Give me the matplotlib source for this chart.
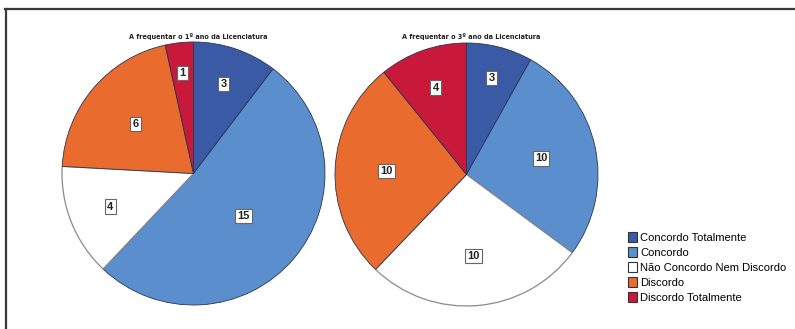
import matplotlib
matplotlib.use("Agg")
import matplotlib.pyplot as plt
from matplotlib.patches import Patch
from matplotlib.lines import Line2D
import numpy as np

categories = ["Concordo Totalmente", "Concordo", "Não Concordo Nem Discordo",
              "Discordo", "Discordo Totalmente"]
values_1ano = [3, 15, 4, 6, 1]
values_3ano = [3, 10, 10, 10, 4]
titles = ["A frequentar o 1º ano da Licenciatura", "A frequentar o 3º ano da Licenciatura"]
colors = ["#3a5aa5", "#5a8ecd", "#ffffff", "#ea6b2e", "#c8193a"]

W, H = 795, 329
fig = plt.figure(figsize=(W / 100, H / 100), dpi=100)
fig.patch.set_facecolor("white")

# frame (top & left edge)
fig.add_artist(Line2D([5 / W, 1], [1 - 9 / H, 1 - 9 / H], color="#3a3a3a", lw=1.6,
                      transform=fig.transFigure))
fig.add_artist(Line2D([5.5 / W, 5.5 / W], [0, 1 - 9 / H], color="#3a3a3a", lw=1.6,
                      transform=fig.transFigure))

r_px = 131.5
centers = [(193.5, 173.5), (466.5, 174.5)]
label_dist = [[0.72, 0.5, 0.68, 0.58, 0.77], [0.76, 0.58, 0.62, 0.61, 0.7]]

for (cx, cy), vals, title, ld in zip(centers, [values_1ano, values_3ano], titles, label_dist):
    ax = fig.add_axes([(cx - r_px) / W, (H - cy - r_px) / H, 2 * r_px / W, 2 * r_px / H])
    wedges, _ = ax.pie(vals, colors=colors, startangle=90, counterclock=False,
                       radius=1.0,
                       wedgeprops=dict(edgecolor="#2a3550", linewidth=0.6))
    wedges[2].set_edgecolor("#8a8a8a")
    wedges[2].set_linewidth(0.9)
    for w, v, d in zip(wedges, vals, ld):
        ang = np.deg2rad((w.theta1 + w.theta2) / 2)
        ax.text(d * np.cos(ang), d * np.sin(ang), str(v), ha="center", va="center",
                fontsize=8, fontweight="bold", color="#222222", family="Liberation Sans",
                bbox=dict(boxstyle="square,pad=0.2", fc="white", ec="#666666", lw=0.8))
    ax.set_xlim(-1, 1)
    ax.set_ylim(-1, 1)
    ax.set_aspect("equal")
    ax.axis("off")
    fig.text((cx + 5) / W, 1 - 36 / H, title, ha="center", va="center", fontsize=5.2,
             fontweight="bold", fontstretch="condensed", family="DejaVu Sans",
             color="#222222")

handles = [Patch(facecolor=c, edgecolor="#333333", linewidth=0.8) for c in colors]
fig.legend(handles, categories, loc="upper left", bbox_to_anchor=(628 / W, 1 - 232 / H),
           frameon=False, prop={"family": "Liberation Sans", "size": 8},
           handlelength=0.85, handleheight=0.95, handletextpad=0.25, labelspacing=0.4,
           borderpad=0, borderaxespad=0)

fig.savefig("out.png", dpi=100, facecolor="white")
